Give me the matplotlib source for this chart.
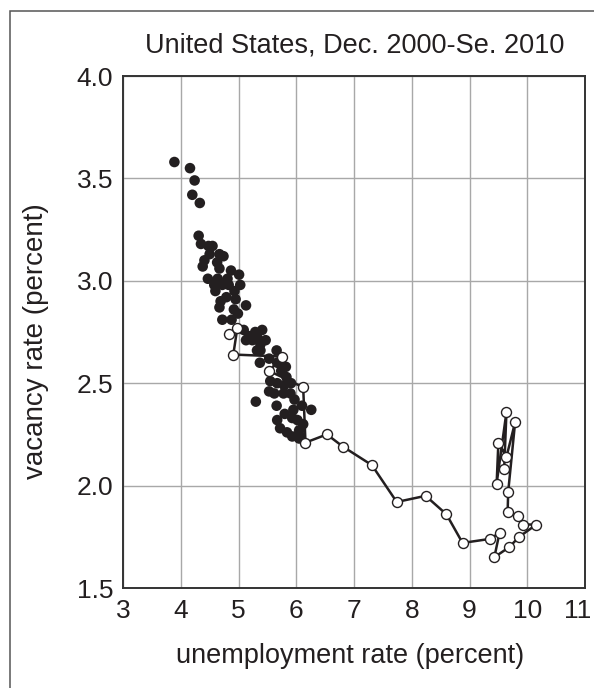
import matplotlib
matplotlib.use('Agg')
import matplotlib.pyplot as plt
from matplotlib.patches import Rectangle
from matplotlib.transforms import ScaledTranslation

plt.rcParams['font.family'] = ['Liberation Sans', 'DejaVu Sans']

# puntos llenos: Dic. 2000 - fines de 2007
u_llenos = [3.89, 4.16, 4.24, 4.20, 4.33, 4.31, 4.35, 4.48, 4.55, 4.67,
            4.41, 4.38, 4.63, 4.67, 4.87, 5.01, 4.47, 4.64, 4.81, 4.58,
            4.72, 4.93, 4.95, 4.69, 4.67, 4.92, 4.99, 5.13, 4.72, 4.88,
            5.41, 5.18, 5.13, 5.24, 5.33, 5.47, 5.38, 5.32, 5.66, 5.53,
            5.37, 5.67, 5.82, 5.55, 5.67, 5.79, 5.91, 5.53, 5.62, 5.78,
            5.90, 5.30, 5.66, 6.26, 5.80, 5.93, 5.67, 6.02, 6.12, 6.05,
            5.84, 5.93, 6.07, 6.05, 4.50, 4.74, 4.83, 5.03, 4.60, 4.79,
            5.09, 5.29, 5.38, 5.74, 5.83, 5.97, 5.72, 6.10, 5.95]
v_llenos = [3.58, 3.55, 3.49, 3.42, 3.38, 3.22, 3.18, 3.17, 3.17, 3.13,
            3.10, 3.07, 3.09, 3.06, 3.05, 3.03, 3.01, 3.01, 3.01, 2.98,
            2.98, 2.95, 2.91, 2.90, 2.87, 2.86, 2.84, 2.88, 2.81, 2.81,
            2.76, 2.73, 2.71, 2.71, 2.72, 2.71, 2.69, 2.66, 2.66, 2.62,
            2.60, 2.60, 2.58, 2.51, 2.50, 2.49, 2.50, 2.46, 2.45, 2.45,
            2.45, 2.41, 2.39, 2.37, 2.35, 2.33, 2.32, 2.32, 2.30, 2.27,
            2.26, 2.24, 2.24, 2.23, 3.13, 3.12, 2.98, 2.98, 2.95, 2.92,
            2.76, 2.75, 2.66, 2.56, 2.53, 2.42, 2.28, 2.39, 2.37]

# circulos vacios unidos por linea: 2008 - Sep. 2010
u_vacios = [4.84, 4.98, 4.91, 5.76, 5.53, 6.12, 6.16, 6.53, 6.81, 7.31,
            7.74, 8.24, 8.60, 8.88, 9.36, 9.52, 9.43, 9.69, 9.86, 10.16,
            9.93, 9.84, 9.66, 9.67, 9.79, 9.64, 9.50, 9.47, 9.64, 9.60]
v_vacios = [2.74, 2.77, 2.64, 2.63, 2.56, 2.48, 2.21, 2.25, 2.19, 2.10,
            1.92, 1.95, 1.86, 1.72, 1.74, 1.77, 1.65, 1.70, 1.75, 1.81,
            1.81, 1.85, 1.87, 1.97, 2.31, 2.14, 2.21, 2.01, 2.36, 2.08]

x_ticks = [3, 4, 5, 6, 7, 8, 9, 10, 11]
y_ticks = [1.5, 2.0, 2.5, 3.0, 3.5, 4.0]

negro = '#231f20'

fig = plt.figure(figsize=(5.94, 6.88), dpi=100)

'''marco gris alrededor de todo'''
fig.patches.append(Rectangle((10/594, -0.05), 1.2, 1 - 11/688 + 0.05,
                             transform=fig.transFigure, fill=False,
                             edgecolor='#555555', linewidth=1.1))

ax = fig.add_axes([123/594, 1 - 588/688, 462/594, 512/688])

ax.scatter(u_llenos, v_llenos, s=58, color=negro, edgecolors='none', zorder=3)
ax.plot(u_vacios, v_vacios, color=negro, linewidth=1.8, marker='o',
        markersize=7.2, markerfacecolor='white', markeredgecolor=negro,
        markeredgewidth=1.0, zorder=4)

ax.set_xlim(3, 11)
ax.set_ylim(1.5, 4.0)
ax.set_xticks(x_ticks)
ax.set_xticklabels([str(t) for t in x_ticks])
ax.set_yticks(y_ticks)
ax.set_yticklabels(['%.1f' % t for t in y_ticks])
ax.tick_params(length=0, labelsize=19, colors=negro)
ax.tick_params(axis='x', pad=8)
ax.tick_params(axis='y', pad=7)
ax.grid(True, color='#a8a8a8', linewidth=1.0)
ax.set_axisbelow(True)
for s in ax.spines.values():
    s.set_color('#333333')
    s.set_linewidth(1.4)

'''el 11 va un poco a la izquierda para que no se corte'''
ultimo = ax.get_xticklabels()[-1]
ultimo.set_transform(ultimo.get_transform() + ScaledTranslation(-7/100, 0, fig.dpi_scale_trans))

fig.text(355/594, 1 - 45/688, 'United States, Dec. 2000-Se. 2010',
         ha='center', va='center', fontsize=19.5, color=negro)
fig.text(350/594, 1 - 656/688, 'unemployment rate (percent)',
         ha='center', va='center', fontsize=19.5, color=negro)
fig.text(36/594, 1 - 341/688, 'vacancy rate (percent)', rotation=90,
         ha='center', va='center', fontsize=20, color=negro)

plt.savefig('out.png', dpi=100)
